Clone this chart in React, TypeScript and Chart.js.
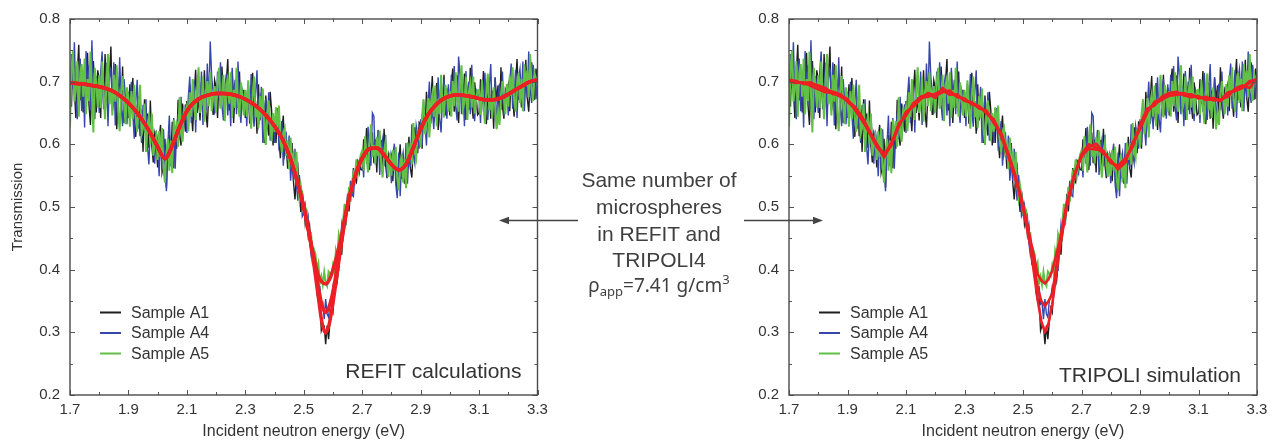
import React, { useEffect, useRef } from 'react';
import { Chart, registerables } from 'chart.js';

Chart.register(...registerables);

const FONT = "'Liberation Sans', Arial, Helvetica, sans-serif";
const BLACK = '#1e1e1e';
const BLUE = '#3646ad';
const GREEN = '#62c046';
const RED = '#ec1f24';

// Measured transmission, 1.700 ... 3.300 eV, one channel every 0.005 eV (321 channels)
const MEAS_START = 1.7;
const MEAS_STEP = 0.005;

const sampleA1 = [
  .718,.660,.744,.687,.642,.713,.759,.670,.700,.651,.725,.679,.746,.663,.631,.702,.733,.686,.651,.718,
  .703,.642,.725,.664,.744,.680,.647,.710,.756,.653,.669,.728,.624,.688,.709,.652,.724,.634,.665,.686,
  .642,.696,.655,.706,.638,.612,.660,.676,.613,.655,.588,.672,.626,.649,.594,.670,.598,.571,.616,.602,
  .563,.610,.631,.555,.568,.609,.531,.597,.615,.575,.636,.562,.618,.593,.671,.615,.598,.665,.647,.620,
  .669,.626,.696,.653,.621,.680,.719,.650,.675,.638,.699,.663,.718,.652,.627,.685,.710,.675,.647,.702,
  .690,.642,.708,.660,.724,.673,.649,.699,.736,.654,.668,.716,.634,.685,.703,.658,.716,.645,.670,.687,
  .642,.674,.695,.633,.652,.714,.640,.669,.617,.696,.638,.682,.666,.602,.678,.635,.614,.684,.654,.598,
  .643,.602,.652,.611,.578,.621,.646,.584,.597,.561,.602,.565,.602,.539,.512,.551,.564,.525,.492,.525,
  .504,.473,.488,.456,.470,.437,.411,.417,.415,.363,.351,.353,.303,.311,.310,.281,.311,.289,.318,.339,
  .332,.371,.399,.383,.409,.445,.424,.469,.490,.482,.521,.493,.527,.521,.562,.542,.539,.574,.570,.560,
  .559,.608,.579,.626,.575,.559,.602,.619,.570,.608,.555,.623,.587,.607,.563,.625,.568,.546,.583,.572,
  .582,.541,.592,.553,.523,.570,.600,.545,.566,.537,.587,.562,.612,.562,.547,.600,.627,.603,.586,.635,
  .632,.593,.660,.620,.684,.640,.619,.671,.709,.635,.651,.698,.623,.675,.693,.653,.711,.646,.671,.690,
  .646,.696,.721,.652,.670,.710,.634,.694,.706,.662,.713,.639,.684,.655,.722,.664,.641,.699,.677,.647,
  .650,.704,.665,.717,.653,.632,.680,.698,.641,.686,.625,.707,.669,.694,.646,.723,.660,.641,.688,.682,
  .695,.653,.718,.676,.644,.699,.736,.671,.695,.659,.717,.683,.735,.674,.652,.707,.731,.696,.671,.721,
  .698,
];

const sampleA4 = [
  .666,.744,.689,.763,.671,.640,.711,.737,.653,.716,.627,.749,.691,.726,.655,.766,.674,.640,.709,.695,
  .650,.715,.748,.656,.678,.730,.629,.706,.721,.663,.731,.630,.690,.652,.739,.660,.629,.704,.674,.632,
  .684,.631,.700,.649,.609,.667,.703,.625,.648,.602,.663,.619,.672,.599,.568,.625,.647,.604,.569,.622,
  .605,.549,.614,.560,.624,.569,.525,.601,.646,.565,.586,.642,.561,.623,.649,.608,.676,.607,.640,.664,
  .618,.676,.708,.634,.654,.702,.619,.687,.702,.655,.716,.631,.685,.654,.729,.665,.764,.707,.684,.650,
  .655,.716,.674,.731,.662,.638,.692,.712,.646,.696,.629,.722,.675,.703,.648,.732,.660,.634,.686,.676,
  .681,.629,.697,.646,.712,.657,.628,.680,.718,.631,.644,.692,.602,.656,.673,.624,.683,.606,.631,.647,
  .602,.642,.658,.596,.606,.637,.566,.612,.617,.575,.614,.542,.575,.542,.593,.535,.510,.551,.522,.485,
  .490,.503,.474,.485,.444,.424,.432,.426,.387,.392,.352,.374,.345,.348,.321,.353,.329,.324,.351,.356,
  .373,.363,.407,.400,.399,.440,.472,.454,.479,.474,.514,.507,.542,.520,.517,.551,.569,.560,.553,.583,
  .586,.547,.608,.569,.628,.586,.566,.650,.645,.573,.583,.623,.551,.593,.608,.565,.615,.550,.570,.583,
  .538,.583,.601,.536,.514,.587,.517,.575,.587,.550,.602,.537,.585,.564,.632,.584,.570,.630,.616,.593,
  .640,.599,.670,.631,.598,.661,.700,.633,.659,.624,.686,.650,.707,.642,.619,.679,.704,.669,.641,.696,
  .653,.711,.671,.725,.660,.638,.740,.709,.648,.693,.629,.717,.674,.700,.648,.727,.660,.637,.686,.677,
  .681,.634,.699,.652,.714,.663,.639,.690,.728,.645,.659,.706,.626,.679,.697,.655,.716,.646,.673,.693,
  .646,.700,.729,.657,.677,.719,.642,.705,.720,.675,.732,.653,.704,.675,.748,.686,.666,.727,.705,.672,
  .712,
];

const sampleA5 = [
  .628,.719,.749,.668,.686,.733,.644,.713,.728,.676,.737,.648,.704,.669,.748,.679,.619,.722,.696,.659,
  .710,.658,.732,.681,.640,.704,.744,.664,.689,.646,.711,.668,.726,.651,.621,.684,.709,.666,.632,.691,
  .674,.628,.685,.640,.695,.645,.620,.664,.695,.616,.626,.665,.588,.632,.645,.600,.649,.582,.599,.612,
  .575,.621,.580,.626,.561,.539,.588,.609,.558,.606,.554,.639,.607,.637,.596,.675,.620,.604,.655,.651,
  .661,.621,.683,.644,.704,.659,.639,.688,.723,.650,.664,.708,.636,.684,.701,.661,.715,.653,.675,.693,
  .651,.699,.722,.657,.672,.711,.637,.695,.706,.665,.715,.642,.687,.658,.722,.665,.644,.699,.677,.646,
  .687,.644,.702,.660,.625,.677,.708,.643,.662,.626,.677,.642,.689,.625,.599,.650,.670,.633,.605,.650,
  .620,.659,.625,.662,.608,.587,.619,.626,.582,.606,.560,.611,.574,.584,.543,.588,.537,.514,.534,.518,
  .493,.499,.495,.460,.457,.458,.424,.432,.425,.401,.410,.379,.389,.376,.396,.379,.374,.397,.394,.390,
  .407,.395,.430,.419,.456,.446,.446,.479,.505,.483,.502,.532,.508,.539,.554,.544,.576,.553,.571,.583,
  .590,.558,.613,.581,.555,.604,.632,.580,.599,.569,.612,.581,.622,.568,.547,.588,.604,.572,.548,.586,
  .550,.591,.557,.596,.545,.527,.567,.584,.539,.577,.530,.603,.575,.602,.568,.634,.589,.578,.622,.621,
  .595,.646,.672,.616,.635,.674,.611,.665,.680,.644,.694,.629,.672,.648,.711,.661,.643,.695,.678,.652,
  .685,.644,.701,.661,.715,.673,.652,.694,.726,.657,.667,.708,.639,.683,.697,.659,.708,.649,.671,.686,
  .687,.647,.702,.664,.633,.682,.713,.654,.674,.642,.691,.660,.624,.651,.631,.679,.701,.673,.648,.696,
  .660,.710,.677,.723,.671,.652,.697,.714,.666,.705,.653,.728,.693,.718,.675,.744,.689,.669,.713,.704,
  .706,
];

// Calculated curves (energy grid, eV)
const fitEnergy = [
  1.700,1.725,1.750,1.775,1.800,1.825,1.850,1.875,1.900,1.925,
  1.950,1.975,2.000,2.025,2.050,2.075,2.100,2.125,2.150,2.175,
  2.200,2.225,2.250,2.275,2.300,2.325,2.350,2.375,2.400,2.425,
  2.450,2.475,2.500,2.525,2.550,2.5625,2.575,2.5875,2.600,2.625,2.650,2.675,
  2.700,2.725,2.750,2.775,2.800,2.825,2.850,2.875,2.900,2.925,
  2.950,2.975,3.000,3.025,3.050,3.075,3.100,3.125,3.150,3.175,
  3.200,3.225,3.250,3.275,3.300,
];

const refitA1 = [
  .698,.697,.696,.694,.692,.689,.684,.676,.666,.653,
  .637,.618,.596,.577,.598,.628,.653,.667,.675,.679,
  .681,.681,.680,.677,.672,.665,.656,.644,.629,.610,
  .583,.546,.500,.440,.356,.315,.299,.314,.347,.430,.503,.548,
  .578,.593,.594,.583,.568,.559,.568,.595,.624,.647,
  .662,.672,.677,.679,.678,.676,.673,.671,.671,.674,
  .680,.687,.694,.700,.703,
];
const refitA4 = [
  .698,.697,.696,.694,.692,.689,.684,.676,.666,.653,
  .637,.618,.596,.577,.598,.628,.653,.667,.675,.679,
  .681,.681,.680,.677,.672,.665,.656,.644,.629,.610,
  .583,.546,.500,.441,.372,.343,.332,.342,.365,.434,.503,.548,
  .578,.593,.594,.583,.568,.559,.568,.595,.624,.647,
  .662,.672,.677,.679,.678,.676,.673,.671,.671,.674,
  .680,.687,.694,.700,.703,
];
const refitA5 = [
  .698,.697,.696,.694,.692,.689,.684,.676,.666,.653,
  .637,.618,.596,.577,.598,.628,.653,.667,.675,.679,
  .681,.681,.680,.677,.672,.665,.656,.644,.629,.610,
  .583,.546,.500,.442,.390,.380,.377,.384,.400,.445,.505,.548,
  .578,.593,.594,.583,.568,.559,.568,.595,.624,.647,
  .662,.672,.677,.679,.678,.676,.673,.671,.671,.674,
  .680,.687,.694,.700,.703,
];

const tripoliA1 = [
  .702,.700,.698,.699,.692,.687,.684,.680,.668,.657,
  .640,.618,.596,.582,.603,.630,.648,.663,.676,.680,
  .674,.690,.681,.677,.671,.666,.660,.652,.637,.613,
  .580,.543,.498,.438,.352,.318,.300,.315,.345,.432,.501,.552,
  .580,.596,.601,.588,.572,.563,.575,.598,.628,.655,
  .665,.671,.679,.681,.682,.677,.675,.673,.674,.669,
  .680,.687,.691,.698,.705,
];
const tripoliA4 = [
  .700,.698,.699,.693,.688,.683,.682,.676,.670,.660,
  .644,.622,.599,.585,.598,.628,.652,.660,.672,.682,
  .678,.683,.686,.675,.673,.664,.661,.649,.640,.616,
  .583,.546,.501,.444,.372,.350,.342,.350,.362,.437,.504,.548,
  .584,.600,.595,.585,.575,.560,.571,.603,.624,.651,
  .668,.673,.677,.679,.680,.680,.673,.676,.670,.672,
  .676,.689,.694,.690,.706,
];
const tripoliA5 = [
  .703,.701,.696,.697,.694,.690,.680,.679,.672,.655,
  .638,.620,.601,.579,.600,.633,.646,.666,.674,.676,
  .681,.686,.679,.680,.669,.667,.657,.654,.634,.618,
  .585,.549,.504,.449,.393,.383,.378,.385,.398,.445,.507,.550,
  .582,.593,.592,.590,.570,.566,.578,.596,.631,.657,
  .662,.676,.682,.684,.678,.675,.677,.671,.672,.670,
  .683,.685,.690,.701,.703,
];

const xTickLabels = [1.7, 1.9, 2.1, 2.3, 2.5, 2.7, 2.9, 3.1, 3.3];
const yTickLabels = [0.2, 0.3, 0.4, 0.5, 0.6, 0.7, 0.8];
const xTickMarks = [1.7, 1.8, 1.9, 2.0, 2.1, 2.2, 2.3, 2.4, 2.5, 2.6, 2.7, 2.8, 2.9, 3.0, 3.1, 3.2, 3.3];
const yTickMarks = [0.2, 0.25, 0.3, 0.35, 0.4, 0.45, 0.5, 0.55, 0.6, 0.65, 0.7, 0.75, 0.8];
const legendLabels = ['Sample A1', 'Sample A4', 'Sample A5'];
const panelTitles = ['REFIT calculations', 'TRIPOLI simulation'];
const xTitle = 'Incident neutron energy (eV)';
const yTitle = 'Transmission';
const noteLines = ['Same number of', 'microspheres', 'in REFIT and', 'TRIPOLI4'];

const measEnergy = sampleA1.map((_, i) => +(MEAS_START + i * MEAS_STEP).toFixed(3));

const isMajor = (list: number[], v: number) => list.some((t) => Math.abs(t - v) < 1e-6);

const decorPlugin = {
  id: 'decor',
  afterDraw(chart: any, _args: any, opts: any) {
    const { ctx, chartArea: ca, scales } = chart;
    const xs = scales.x;
    const ys = scales.y;
    ctx.save();
    ctx.strokeStyle = '#555';
    ctx.lineWidth = 1;
    ctx.beginPath();
    for (const v of xTickMarks) {
      const px = Math.round(xs.getPixelForValue(v)) + 0.5;
      const len = isMajor(xTickLabels, v) ? 5 : 3;
      ctx.moveTo(px, ca.bottom);
      ctx.lineTo(px, ca.bottom - len);
      ctx.moveTo(px, ca.top);
      ctx.lineTo(px, ca.top + len);
    }
    for (const v of yTickMarks) {
      const py = Math.round(ys.getPixelForValue(v)) + 0.5;
      const len = isMajor(yTickLabels, v) ? 5 : 3;
      ctx.moveTo(ca.left, py);
      ctx.lineTo(ca.left + len, py);
      ctx.moveTo(ca.right, py);
      ctx.lineTo(ca.right - len, py);
    }
    ctx.stroke();
    ctx.lineWidth = 1.4;
    ctx.strokeStyle = '#4a4a4a';
    ctx.strokeRect(ca.left, ca.top, ca.right - ca.left, ca.bottom - ca.top);

    // legend
    ctx.font = `16px ${FONT}`;
    ctx.textBaseline = 'middle';
    ctx.textAlign = 'left';
    legendLabels.forEach((lab, i) => {
      const ds = chart.data.datasets.find((d: any) => d.label === lab);
      if (!ds) return;
      const y = ca.top + 293.5 + i * 20.5;
      ctx.strokeStyle = ds.borderColor;
      ctx.lineWidth = 2;
      ctx.beginPath();
      ctx.moveTo(ca.left + 30, y);
      ctx.lineTo(ca.left + 51, y);
      ctx.stroke();
      ctx.fillStyle = '#333';
      ctx.fillText(lab, ca.left + 61, y + 1);
    });

    // panel caption
    ctx.font = `21px ${FONT}`;
    ctx.textAlign = 'right';
    ctx.fillStyle = '#333';
    ctx.fillText(opts.caption, ca.right - 16, ca.top + opts.captionDy);
    ctx.restore();
  },
};

const xy = (xs: number[], ys: number[]) => ys.map((y, i) => ({ x: xs[i], y }));

function buildDatasets(fits: number[][], fitWidth: number, smooth: boolean) {
  const fitSets = fits.map((f) => ({
    label: 'fit',
    data: xy(fitEnergy, f),
    borderColor: RED,
    borderWidth: fitWidth,
    pointRadius: 0,
    tension: smooth ? 0.4 : 0,
    cubicInterpolationMode: smooth ? 'monotone' : 'default',
    borderJoinStyle: 'round',
    borderCapStyle: 'round',
  }));
  const meas = (label: string, data: number[], color: string, width: number) => ({
    label,
    data: xy(measEnergy, data),
    borderColor: color,
    borderWidth: width,
    pointRadius: 0,
    tension: 0,
  });
  return [
    ...fitSets,
    meas('Sample A5', sampleA5, GREEN, 2),
    meas('Sample A4', sampleA4, BLUE, 1.4),
    meas('Sample A1', sampleA1, BLACK, 1.4),
  ];
}

function makeConfig(panel: number): any {
  const left = panel === 0;
  return {
    type: 'line',
    data: {
      datasets: left
        ? buildDatasets([refitA1, refitA4, refitA5], 3.5, true)
        : buildDatasets([tripoliA1, tripoliA4, tripoliA5], 2.6, false),
    },
    plugins: [decorPlugin],
    options: {
      animation: false,
      responsive: false,
      devicePixelRatio: 1,
      events: [],
      layout: {
        padding: left
          ? { left: 0, right: 102.5, top: 15.7, bottom: 0 }
          : { left: 79, right: 18, top: 15.7, bottom: 0 },
      },
      plugins: {
        legend: { display: false },
        tooltip: { enabled: false },
        decor: { caption: panelTitles[panel], captionDy: left ? 353.5 : 357 },
      },
      scales: {
        x: {
          type: 'linear',
          min: 1.7,
          max: 3.3,
          afterBuildTicks: (s: any) => {
            s.ticks = xTickLabels.map((v) => ({ value: v }));
          },
          afterFit: (s: any) => {
            s.height = 46;
          },
          grid: { display: false, drawTicks: false },
          border: { display: false },
          ticks: {
            padding: 6,
            color: '#333',
            font: { family: FONT, size: 15 },
            maxRotation: 0,
            autoSkip: false,
            callback: (v: any) => Number(v).toFixed(1),
          },
          title: {
            display: true,
            text: xTitle,
            color: '#333',
            font: { family: FONT, size: 16 },
            padding: { top: 0, bottom: 0 },
          },
        },
        y: {
          type: 'linear',
          min: 0.2,
          max: 0.8,
          afterBuildTicks: (s: any) => {
            s.ticks = yTickLabels.map((v) => ({ value: v }));
          },
          afterFit: (s: any) => {
            s.width = 70;
          },
          grid: { display: false, drawTicks: false },
          border: { display: false },
          ticks: {
            padding: 10,
            color: '#333',
            font: { family: FONT, size: 15 },
            autoSkip: false,
            callback: (v: any) => Number(v).toFixed(1),
          },
          title: {
            display: left,
            text: yTitle,
            color: '#333',
            font: { family: FONT, size: 15 },
            padding: { top: 9, bottom: 0 },
          },
        },
      },
    },
  };
}

function Panel({ panel, x, width }: { panel: number; x: number; width: number }) {
  const ref = useRef<HTMLCanvasElement | null>(null);
  useEffect(() => {
    if (!ref.current) return;
    const chart = new Chart(ref.current, makeConfig(panel));
    return () => chart.destroy();
  }, [panel]);
  return (
    <canvas
      ref={ref}
      width={width}
      height={441}
      style={{ position: 'absolute', left: x, top: 0, width, height: 441 }}
    />
  );
}

export default function App() {
  const noteBaselines = [187, 213.5, 240.5, 267];
  return (
    <div style={{ position: 'absolute', left: 0, top: 0, width: 1275, height: 441, background: '#fff', overflow: 'hidden' }}>
      <Panel panel={0} x={0} width={640} />
      <Panel panel={1} x={640} width={635} />
      <svg
        width={1275}
        height={441}
        style={{ position: 'absolute', left: 0, top: 0, pointerEvents: 'none' }}
      >
        {noteLines.map((t, i) => (
          <text
            key={t}
            x={659}
            y={noteBaselines[i]}
            textAnchor="middle"
            fontFamily={FONT}
            fontSize={21}
            fill="#3f3f3f"
          >
            {t}
          </text>
        ))}
        <text x={659} y={292} textAnchor="middle" fontFamily="'Noto Sans', 'Open Sans', sans-serif" fontSize={19} fill="#3f3f3f">
          <tspan>ρ</tspan>
          <tspan fontSize={13} dy={4}>app</tspan>
          <tspan dy={-4}>=7.41 g/cm</tspan>
          <tspan fontSize={13} dy={-8}>3</tspan>
        </text>
        <line x1={578} y1={220.5} x2={506} y2={220.5} stroke="#444" strokeWidth={1.3} />
        <polygon points="499,220.5 509,216.8 509,224.2" fill="#444" />
        <line x1={744} y1={220.5} x2={816} y2={220.5} stroke="#444" strokeWidth={1.3} />
        <polygon points="823,220.5 813,216.8 813,224.2" fill="#444" />
      </svg>
    </div>
  );
}
